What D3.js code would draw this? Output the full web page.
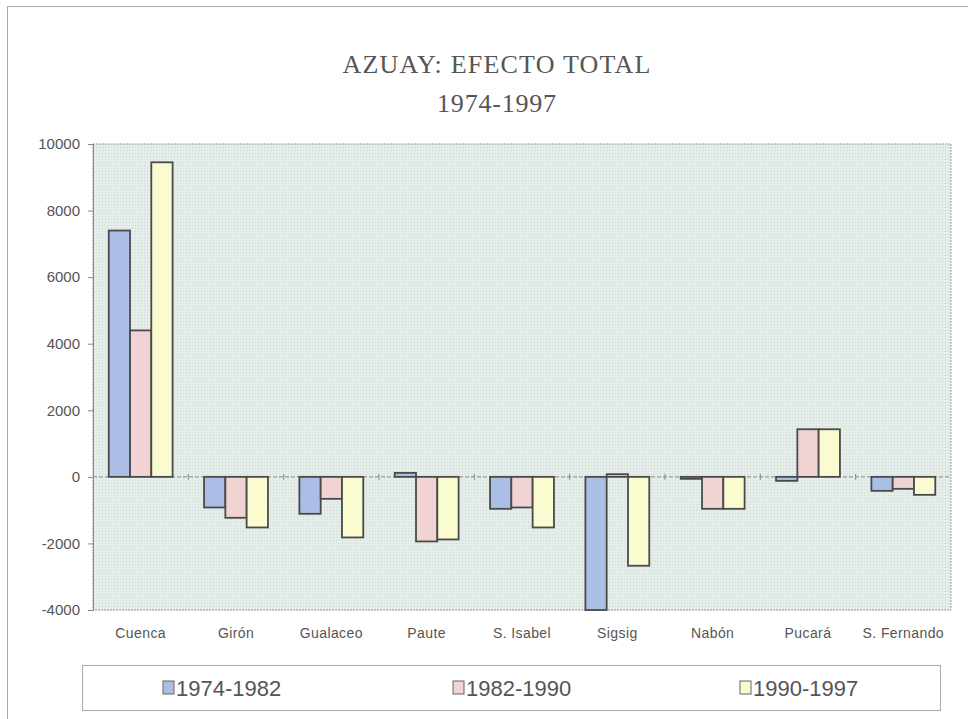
<!DOCTYPE html>
<html>
  <head>
    <meta charset="UTF-8">
    <title>Azuay: Efecto Total 1974-1997</title>
    <style>
      body { margin: 0; background: #fff; }
      svg { display: block; }
    </style>
  </head>
  <body>
    <svg></svg>
    <script src="https://d3js.org/d3.v7.min.js"></script>
    <script>

// cantones del Azuay
var cantones = ["Cuenca", "Girón", "Gualaceo", "Paute", "S. Isabel", "Sigsig", "Nabón", "Pucará", "S. Fernando"];
var periodos = ["1974-1982", "1982-1990", "1990-1997"];

// efecto total por periodo
var p1974 = [7400, -920, -1110, 120, -960, -4000, -60, -120, -420];
var p1982 = [4400, -1230, -660, -1940, -920, 80, -960, 1430, -360];
var p1990 = [9450, -1520, -1820, -1880, -1520, -2670, -960, 1430, -540];

var yTicks = [-4000, -2000, 0, 2000, 4000, 6000, 8000, 10000];

var config = {
  width: 968,
  height: 719,
  plot: { left: 93, top: 144, right: 951, bottom: 610 },
  colors: ["#abbee6", "#f1d3d3", "#fbfbd0"]
};

var svg = d3.select("svg")
  .attr("width", config.width)
  .attr("height", config.height)
  .style("font-family", "'Liberation Sans', Arial, sans-serif");

// marco exterior
svg.append("rect")
  .attr("x", 7.5).attr("y", 6.5)
  .attr("width", 970).attr("height", 730)
  .attr("fill", "none")
  .attr("stroke", "#aaa");

// titulo
svg.append("text")
  .attr("x", 497).attr("y", 73)
  .attr("text-anchor", "middle")
  .attr("font-family", "'Liberation Serif', 'DejaVu Serif', serif")
  .attr("font-size", 26)
  .attr("letter-spacing", 1.2)
  .attr("fill", "#555")
  .text("AZUAY: EFECTO TOTAL");

svg.append("text")
  .attr("x", 497).attr("y", 112)
  .attr("text-anchor", "middle")
  .attr("font-family", "'Liberation Serif', 'DejaVu Serif', serif")
  .attr("font-size", 26)
  .attr("letter-spacing", 0.8)
  .attr("fill", "#555")
  .text("1974-1997");

var p = config.plot;

var x0 = d3.scaleBand()
  .domain(cantones)
  .range([p.left, p.right])
  .paddingInner(0.33)
  .paddingOuter(0.165);

var x1 = d3.scaleBand()
  .domain(periodos)
  .range([0, x0.bandwidth()]);

var y = d3.scaleLinear()
  .domain([-4000, 10000])
  .range([p.bottom, p.top]);

var color = d3.scaleOrdinal().domain(periodos).range(config.colors);

// patron punteado del fondo
var defs = svg.append("defs");
var pat = defs.append("pattern")
  .attr("id", "dots")
  .attr("width", 3).attr("height", 3)
  .attr("patternUnits", "userSpaceOnUse");
pat.append("rect").attr("width", 3).attr("height", 3).attr("fill", "#e4ede9");
pat.append("rect").attr("width", 1).attr("height", 1).attr("fill", "#cddbd5");

svg.append("rect")
  .attr("x", p.left).attr("y", p.top)
  .attr("width", p.right - p.left).attr("height", p.bottom - p.top)
  .attr("fill", "url(#dots)")
  .attr("stroke", "#999")
  .attr("stroke-dasharray", "2,1");

// eje y
var yAxis = svg.append("g")
  .attr("transform", "translate(" + p.left + ",0)")
  .call(d3.axisLeft(y).tickValues(yTicks).tickSize(5).tickPadding(8)
    .tickFormat(function(d) { return String(d); }));
yAxis.select(".domain").attr("stroke", "#888");
yAxis.selectAll(".tick line").attr("stroke", "#888");
yAxis.selectAll("text").attr("fill", "#555").attr("font-size", 15)
  .attr("font-family", "'Liberation Sans', Arial, sans-serif");

// linea de cero con marcas entre categorias
svg.append("line")
  .attr("x1", p.left).attr("x2", p.right)
  .attr("y1", y(0)).attr("y2", y(0))
  .attr("stroke", "#888")
  .attr("stroke-dasharray", "4,2");

svg.append("g")
  .selectAll("line")
  .data(cantones.slice(1))
  .enter().append("line")
    .attr("x1", function(d) { return x0(d) - x0.step() * x0.paddingInner() / 2; })
    .attr("x2", function(d) { return x0(d) - x0.step() * x0.paddingInner() / 2; })
    .attr("y1", y(0) - 3).attr("y2", y(0) + 3)
    .attr("stroke", "#888");

// barras
var data = cantones.map(function(c, i) {
  return { canton: c, values: [p1974[i], p1982[i], p1990[i]] };
});

svg.append("g")
  .selectAll("g")
  .data(data)
  .enter().append("g")
    .attr("transform", function(d) { return "translate(" + x0(d.canton) + ",0)"; })
  .selectAll("rect")
  .data(function(d) { return d.values.map(function(v, j) { return { key: periodos[j], value: v }; }); })
  .enter().append("rect")
    .attr("x", function(d) { return x1(d.key); })
    .attr("y", function(d) { return y(Math.max(0, d.value)); })
    .attr("width", x1.bandwidth())
    .attr("height", function(d) { return Math.abs(y(d.value) - y(0)); })
    .attr("fill", function(d) { return color(d.key); })
    .attr("stroke", "#4a4a4a")
    .attr("stroke-width", 1.8);

// etiquetas de categorias
svg.append("g")
  .selectAll("text")
  .data(cantones)
  .enter().append("text")
    .attr("x", function(d) { return x0(d) + x0.bandwidth() / 2; })
    .attr("y", 638)
    .attr("text-anchor", "middle")
    .attr("font-size", 14)
    .attr("letter-spacing", 0.4)
    .attr("fill", "#555")
    .text(function(d) { return d; });

// leyenda
svg.append("rect")
  .attr("x", 82.5).attr("y", 665.5)
  .attr("width", 858).attr("height", 45)
  .attr("fill", "#fff")
  .attr("stroke", "#aaa");

var legendX = [163, 453, 740];
var legend = svg.append("g")
  .selectAll("g")
  .data(periodos)
  .enter().append("g")
    .attr("transform", function(d, i) { return "translate(" + legendX[i] + ",688)"; });

legend.append("rect")
  .attr("x", 0).attr("y", -7)
  .attr("width", 11).attr("height", 13)
  .attr("fill", function(d) { return color(d); })
  .attr("stroke", "#666");

legend.append("text")
  .attr("x", 13)
  .attr("dy", "0.36em")
  .attr("font-size", 22)
  .attr("fill", "#555")
  .text(function(d) { return d; });

    </script>
  </body>
</html>
